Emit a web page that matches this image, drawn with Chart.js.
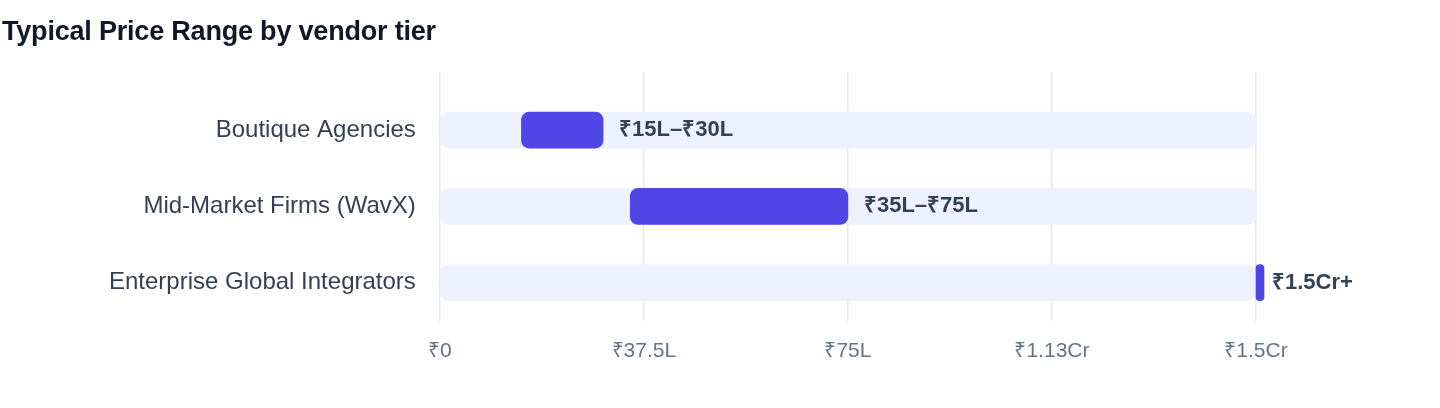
<!DOCTYPE html>
<html>
<head>
<meta charset="utf-8">
<script src="https://cdn.jsdelivr.net/npm/chart.js@4/dist/chart.umd.min.js"></script>
<style>
  body { margin: 0; background: #fff; }
  #wrap { position: relative; width: 1440px; height: 408px; }
  #title {
    position: absolute; left: 2px; top: 18px; margin: 0;
    font: bold 27px "Liberation Sans", Arial, sans-serif; line-height: 1;
    color: #0f172a; letter-spacing: -0.2px;
  }
  canvas { position: absolute; left: 0; top: 0; }
</style>
</head>
<body>
<div id="wrap">
  <canvas id="myChart" width="1440" height="408"></canvas>
  <h3 id="title">Typical Price Range by vendor tier</h3>
</div>
<script>
// giá trị tính theo lakh (₹L)
const tiers = ["Boutique Agencies", "Mid-Market Firms (WavX)", "Enterprise Global Integrators"];
const rangeStart = [15, 35, 150];
const rangeEnd = [30, 75, 150];
const rangeLabels = ["₹15L–₹30L", "₹35L–₹75L", "₹1.5Cr+"];
const scaleMax = 150;
const tickLabels = ["₹0", "₹37.5L", "₹75L", "₹1.13Cr", "₹1.5Cr"];

const fontFamily = '"Liberation Sans", Arial, sans-serif';
const gridColor = "#e2e8f0";

// chữ giá trị bên phải mỗi thanh
const rangeLabelPlugin = {
  id: "rangeLabels",
  afterDatasetsDraw(chart) {
    const ctx = chart.ctx;
    const meta = chart.getDatasetMeta(0);
    const x = chart.scales.x;
    ctx.save();
    ctx.font = "bold 22px " + fontFamily;
    ctx.fillStyle = "#334155";
    ctx.textAlign = "left";
    ctx.textBaseline = "middle";
    meta.data.forEach((bar, i) => {
      ctx.fillText(rangeLabels[i], x.getPixelForValue(rangeEnd[i]) + 16, bar.y);
    });
    ctx.restore();
  }
};

const ctx = document.getElementById("myChart").getContext("2d");
new Chart(ctx, {
  type: "bar",
  data: {
    labels: tiers,
    datasets: [
      {
        label: "Range",
        data: tiers.map((t, i) => [rangeStart[i], rangeEnd[i]]),
        backgroundColor: "#4f46e5",
        borderRadius: 8,
        borderSkipped: false,
        minBarLength: 8,
        barThickness: 36,
        grouped: false,
        clip: false
      },
      {
        label: "Track",
        data: tiers.map(() => [0, scaleMax]),
        backgroundColor: "#eef2ff",
        borderRadius: 8,
        borderSkipped: false,
        barThickness: 36,
        grouped: false
      }
    ]
  },
  options: {
    indexAxis: "y",
    responsive: false,
    animation: false,
    layout: { padding: { left: 85, right: 184, top: 72, bottom: 26 } },
    plugins: {
      legend: { display: false },
      tooltip: { enabled: false }
    },
    scales: {
      x: {
        position: "bottom",
        min: 0,
        max: scaleMax,
        ticks: {
          stepSize: scaleMax / 4,
          padding: 18,
          color: "#64748b",
          font: { family: fontFamily, size: 21 },
          callback: (v, i) => tickLabels[i]
        },
        grid: { color: gridColor, lineWidth: 1.5, drawTicks: false },
        border: { display: false }
      },
      x2: {
        position: "top",
        min: 0,
        max: scaleMax,
        ticks: { stepSize: scaleMax / 4, display: false },
        grid: { color: gridColor, lineWidth: 1.5, drawOnChartArea: false, drawTicks: true, tickLength: 20 },
        border: { display: false }
      },
      y: {
        ticks: {
          padding: 24,
          color: "#334155",
          font: { family: fontFamily, size: 24 }
        },
        grid: { display: false, drawTicks: false },
        border: { display: false }
      }
    }
  },
  plugins: [rangeLabelPlugin]
});
</script>
</body>
</html>
